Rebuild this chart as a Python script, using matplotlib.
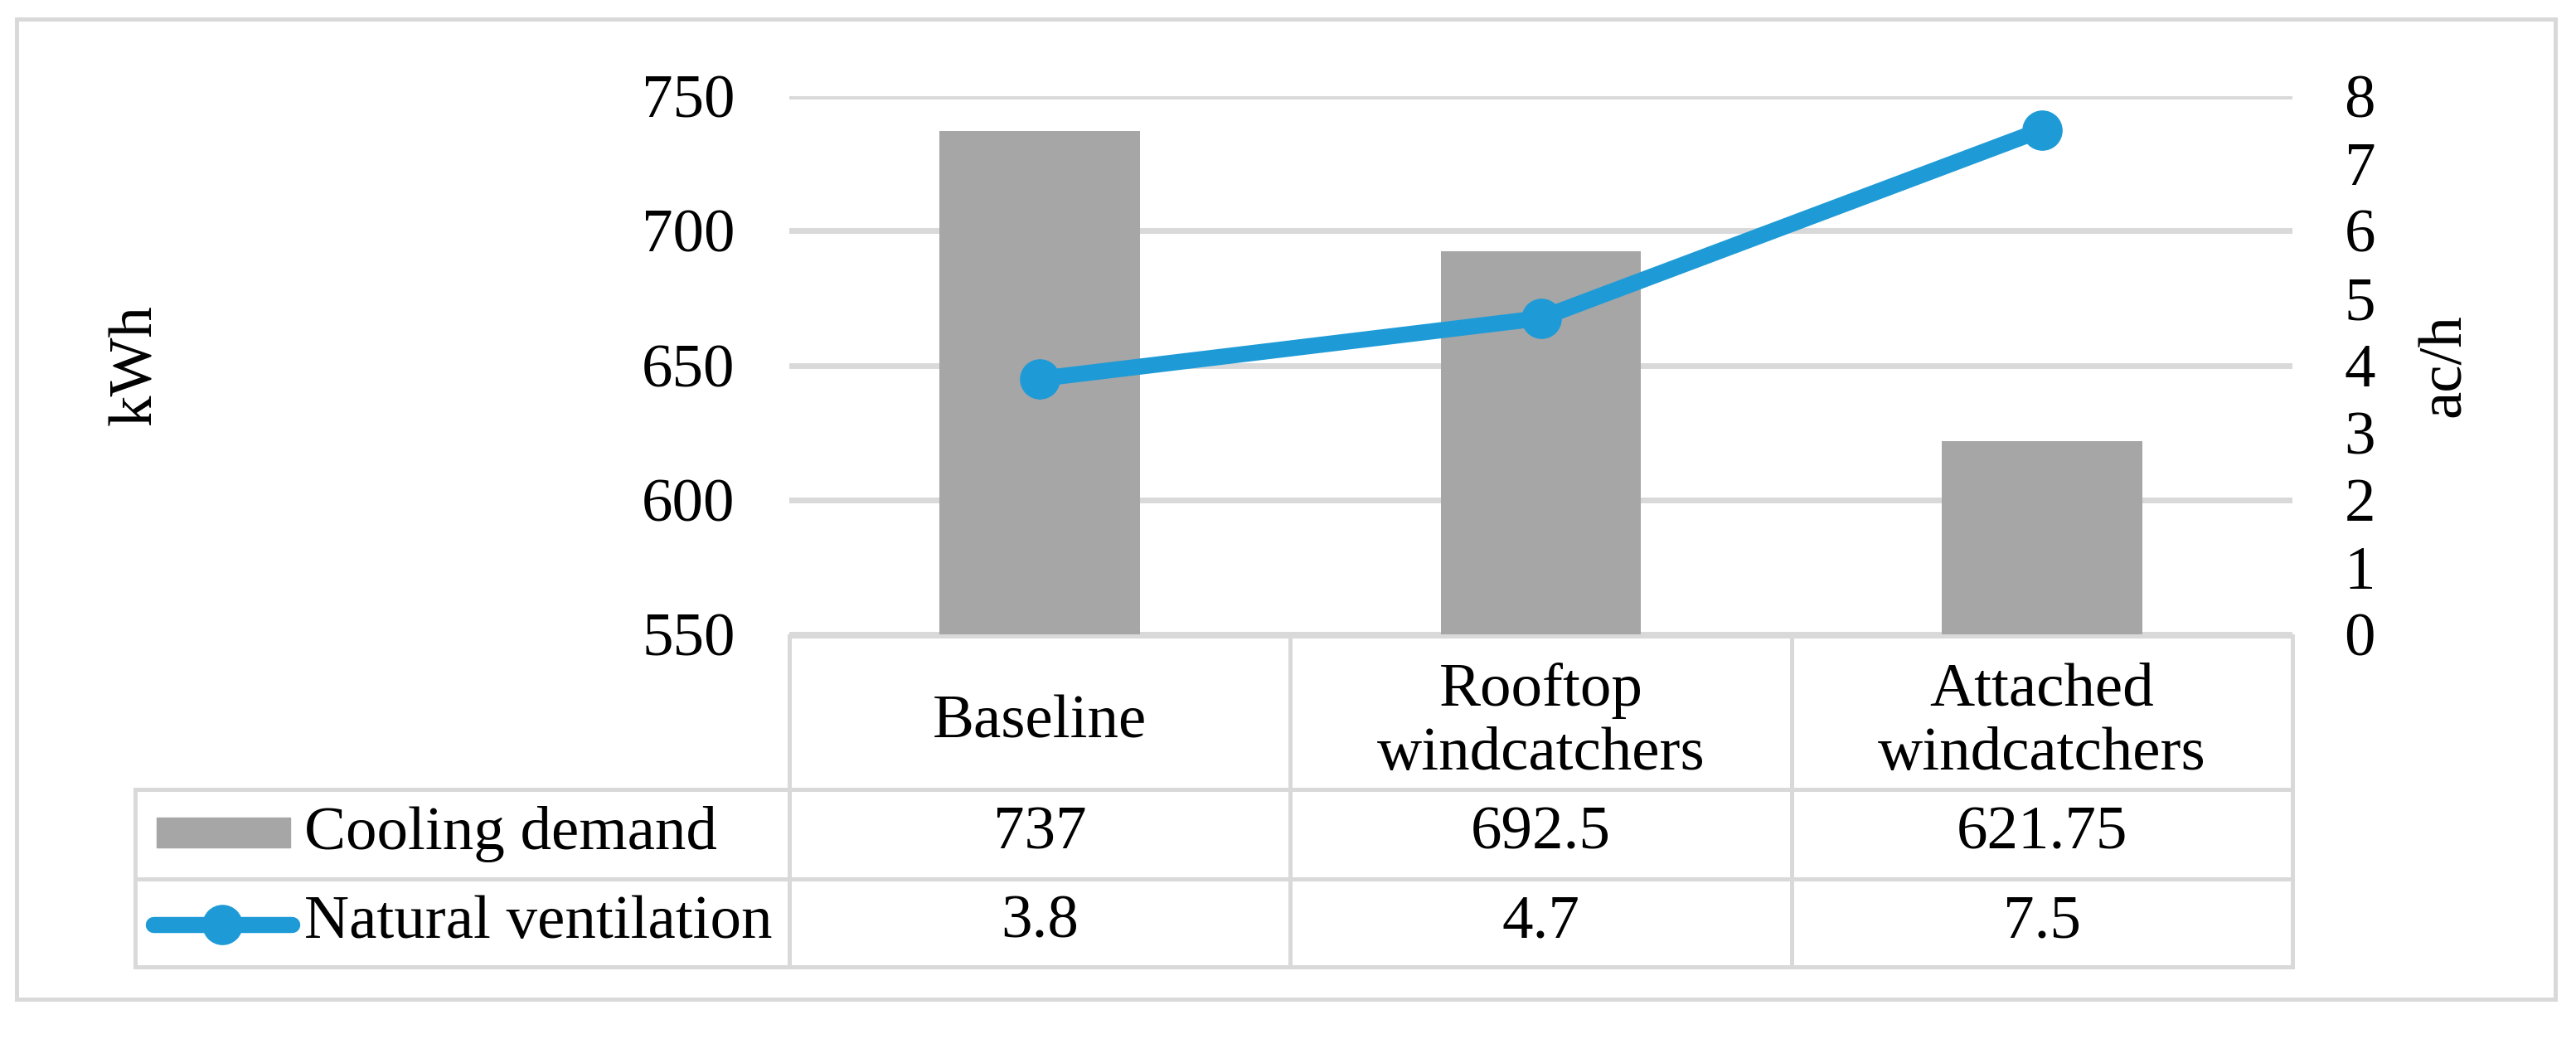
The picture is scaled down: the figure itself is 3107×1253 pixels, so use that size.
import matplotlib
matplotlib.use("Agg")
import matplotlib.pyplot as plt
from matplotlib import transforms
from matplotlib.lines import Line2D
from matplotlib.patches import Rectangle

categories = ["Baseline", "Rooftop\nwindcatchers", "Attached\nwindcatchers"]
cooling_demand = [737, 692.5, 621.75]
cooling_labels = ["737", "692.5", "621.75"]
natural_ventilation = [3.8, 4.7, 7.5]
vent_labels = ["3.8", "4.7", "7.5"]
series_names = ["Cooling demand", "Natural ventilation"]
left_ticks = [550, 600, 650, 700, 750]
right_ticks = [0, 1, 2, 3, 4, 5, 6, 7, 8]

W, H = 3107, 1253
plt.rcParams['font.family'] = ['Liberation Serif', 'DejaVu Serif']
FS = 54

GRID = '#D9D9D9'
BAR = '#A6A6A6'
BLUE = '#1E9BD7'

fig = plt.figure(figsize=(W / 100, H / 100), dpi=100)

def fx(x):
    return x / W

def fy(y):
    return 1 - y / H

px_left, px_right, px_top, px_bot = 952, 2765, 116, 765
ax = fig.add_axes([fx(px_left), fy(px_bot), fx(px_right) - fx(px_left), fy(px_top) - fy(px_bot)])
ax2 = ax.twinx()

xs = list(range(len(categories)))
ax.bar(xs, cooling_demand, width=0.4, color=BAR, zorder=2)
ax.set_xlim(-0.5, len(categories) - 0.5)
ax.set_ylim(550, 750)
ax.set_yticks(left_ticks)
ax.yaxis.grid(True, color=GRID, linewidth=5, zorder=0)
ax.set_axisbelow(True)
for s in ax.spines.values():
    s.set_visible(False)
for s in ax2.spines.values():
    s.set_visible(False)
ax.set_xticks([])
ax.tick_params(axis='y', length=0, labelsize=FS, pad=47)
ax.set_ylabel("kWh", fontsize=FS, labelpad=0)
ax.yaxis.set_label_coords((198 - px_left) / (px_right - px_left), 0.5)

ax2.plot(xs, natural_ventilation, color=BLUE, linewidth=14, marker='o',
         markersize=34, solid_capstyle='round', zorder=3)
ax2.set_ylim(0, 8)
ax2.set_yticks(right_ticks)
ax2.tick_params(axis='y', length=0, labelsize=FS, pad=45)
ax2.set_ylabel("ac/h", fontsize=FS, labelpad=0)
ax2.yaxis.set_label_coords((2915 - px_left) / (px_right - px_left), 0.5)
ax2.set_xlim(-0.5, len(categories) - 0.5)

lw_px = 5
LW = lw_px * 72 / 100

def hline(x0, x1, y):
    fig.add_artist(Line2D([fx(x0), fx(x1)], [fy(y), fy(y)], color=GRID, linewidth=LW,
                          transform=fig.transFigure, solid_capstyle='projecting'))

def vline(x, y0, y1):
    fig.add_artist(Line2D([fx(x), fx(x)], [fy(y0), fy(y1)], color=GRID, linewidth=LW,
                          transform=fig.transFigure, solid_capstyle='projecting'))

# table grid
t_left = 163
row_y = [767, 952, 1060, 1166]
hline(px_left, px_right, row_y[0])
hline(t_left, px_right, row_y[1])
hline(t_left, px_right, row_y[2])
hline(t_left, px_right, row_y[3])
vline(t_left, row_y[1], row_y[3])
col_w = (px_right - px_left) / len(categories)
for i in range(len(categories) + 1):
    vline(px_left + i * col_w, row_y[0], row_y[3])

# outer border
fig.add_artist(Rectangle((fx(20), fy(1205)), fx(3082) - fx(20), fy(23) - fy(1205),
                         fill=False, edgecolor=GRID, linewidth=LW, transform=fig.transFigure))

# table text, positioned by category via data transform
bt = transforms.blended_transform_factory(ax.transData, fig.transFigure)
for i, cat in enumerate(categories):
    fig.text(i, fy((row_y[0] + row_y[1]) / 2 + 12), cat, transform=bt, ha='center', va='center',
             fontsize=FS, linespacing=1.2)
    fig.text(i, fy((row_y[1] + row_y[2]) / 2), cooling_labels[i], transform=bt, ha='center',
             va='center', fontsize=FS)
    fig.text(i, fy((row_y[2] + row_y[3]) / 2), vent_labels[i], transform=bt, ha='center',
             va='center', fontsize=FS)

# legend keys
fig.add_artist(Rectangle((fx(189), fy(1022)), fx(350) - fx(189), fy(986) - fy(1022),
                         color=BAR, transform=fig.transFigure))
ymid2 = (row_y[2] + row_y[3]) / 2 + 2
fig.add_artist(Line2D([fx(185), fx(352)], [fy(ymid2), fy(ymid2)], color=BLUE, linewidth=14,
                      solid_capstyle='round', transform=fig.transFigure))
fig.add_artist(Line2D([fx(268)], [fy(ymid2)], color=BLUE, marker='o', markersize=34,
                      linestyle='none', transform=fig.transFigure))
fig.text(fx(367), fy((row_y[1] + row_y[2]) / 2), series_names[0], ha='left', va='center', fontsize=FS)
fig.text(fx(367), fy((row_y[2] + row_y[3]) / 2), series_names[1], ha='left', va='center', fontsize=FS)

fig.savefig("out.png", dpi=100, facecolor='white')
